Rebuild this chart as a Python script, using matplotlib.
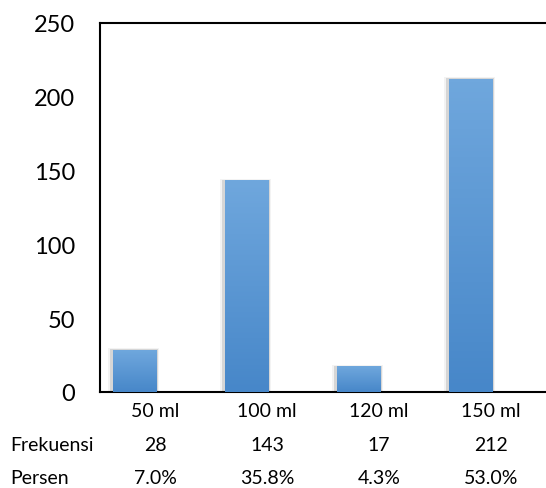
import numpy as np
import matplotlib.pyplot as plt
from matplotlib.colors import LinearSegmentedColormap

plt.rcParams['font.family'] = ['Lato', 'DejaVu Sans']

kategori = ['50 ml', '100 ml', '120 ml', '150 ml']
frekuensi = [28, 143, 17, 212]
persen = ['7.0%', '35.8%', '4.3%', '53.0%']

fig = plt.figure(figsize=(5.46, 4.89), dpi=100)
ax = fig.add_axes([100/546, 96/489, 446/546, 369/489])

x = np.arange(len(kategori))
w = 0.39

# shadow behind bars
ax.bar(x - 0.012, np.array(frekuensi) + 1.5, width=w + 0.07, color='#f3f3f3', zorder=1)
ax.bar(x - 0.01, np.array(frekuensi) + 0.8, width=w + 0.035, color='#d6d6d6', zorder=2)
bars = ax.bar(x, frekuensi, width=w, color='#5b9bd5', zorder=3)

# gradient fill
cmap = LinearSegmentedColormap.from_list('g', ['#4787c9', '#6fa7dd'])
grad = np.linspace(0, 1, 100).reshape(-1, 1)
for b in bars:
    x0, y0 = b.get_x(), b.get_y()
    ax.imshow(grad, cmap=cmap, aspect='auto', origin='lower',
              extent=[x0, x0 + b.get_width(), y0, y0 + b.get_height()], zorder=4)

ax.set_xlim(-0.3125, 3.67)
ax.set_ylim(0, 250)
ax.set_yticks(range(0, 251, 50))
ax.tick_params(axis='y', length=0, labelsize=17, pad=18)
ax.set_xticks([])

for s in ['top', 'left', 'bottom']:
    ax.spines[s].set_linewidth(1.5)
ax.spines['right'].set_visible(False)

# category labels + data table rows (shifted right like the Excel table)
off = 0.18
rows = [(None, kategori, -0.049), ('Frekuensi', [str(v) for v in frekuensi], -0.141),
        ('Persen', persen, -0.233)]
pos = ax.get_position()
for label, vals, yy in rows:
    if label:
        fig.text(10/546, pos.y0 + yy * pos.height, label,
                 fontsize=14, va='center', ha='left')
    for xi, v in zip(x, vals):
        ax.text(xi + off, yy, v, transform=ax.get_xaxis_transform(), fontsize=14,
                ha='center', va='center', clip_on=False)

fig.savefig('out.png', dpi=100)
